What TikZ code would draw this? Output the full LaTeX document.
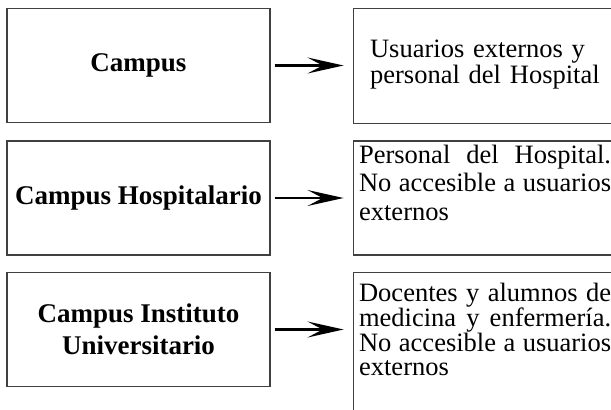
\documentclass[tikz,border=0pt]{standalone}
\usepackage{fontspec}
\setmainfont{Liberation Serif}
\usetikzlibrary{arrows.meta, positioning}
\definecolor{linegray}{gray}{0.25}

\begin{document}
\begin{tikzpicture}[x=1pt, y=1pt, >={Stealth[length=36pt, width=16pt, inset=15pt]}]
        \tikzstyle{campus} = [rectangle, draw=linegray, line width=1.1pt, minimum width=263pt, minimum height=114pt, align=center, inner sep=0pt, font=\fontsize{27}{32}\selectfont\bfseries]
        \tikzstyle{users} = [rectangle, draw=linegray, line width=1.1pt, text width=252pt, inner ysep=0pt]
        \tikzstyle{link} = [->, line width=2.2pt, shorten <=4pt, shorten >=9pt]

        \useasboundingbox (0,0) rectangle (611,-410);
        \clip (0,0) rectangle (611,-410);

        \node [campus] (campA) at (138.5,-65.5) {Campus};
        \node [campus] (campB) at (138.5,-198) {Campus Hospitalario};
        \node [campus] (campC) at (138.5,-329.5) {Campus Instituto\\Universitario};

        \node [users, right=82pt of campA.north east, anchor=north west, inner xsep=17pt, align=left, font=\fontsize{26.5}{26}\selectfont] (usrA) {\rule{0pt}{49pt}Usuarios externos y\\personal del Hospital\rule[-40pt]{0pt}{0pt}};
        \node [users, right=82pt of campB.north east, anchor=north west, inner xsep=6pt, align=justify, font=\fontsize{26.5}{28.5}\selectfont] (usrB) {\rule{0pt}{22pt}Personal del Hospital.\linebreak No accesible a usuarios\linebreak externos\rule[-35pt]{0pt}{0pt}};
        \node [users, right=82pt of campC.north east, anchor=north west, inner xsep=6pt, align=justify, font=\fontsize{26.5}{23.3}\selectfont] (usrC) {\rule{0pt}{29pt}Docentes y alumnos de\linebreak medicina y enfermería.\linebreak No accesible a usuarios\linebreak externos\rule[-60pt]{0pt}{0pt}};

        \draw [link] (campA.east) -- (campA.east -| usrA.west);
        \draw [link] (campB.east) -- (campB.east -| usrB.west);
        \draw [link] (campC.east) -- (campC.east -| usrC.west);
\end{tikzpicture}
\end{document}
